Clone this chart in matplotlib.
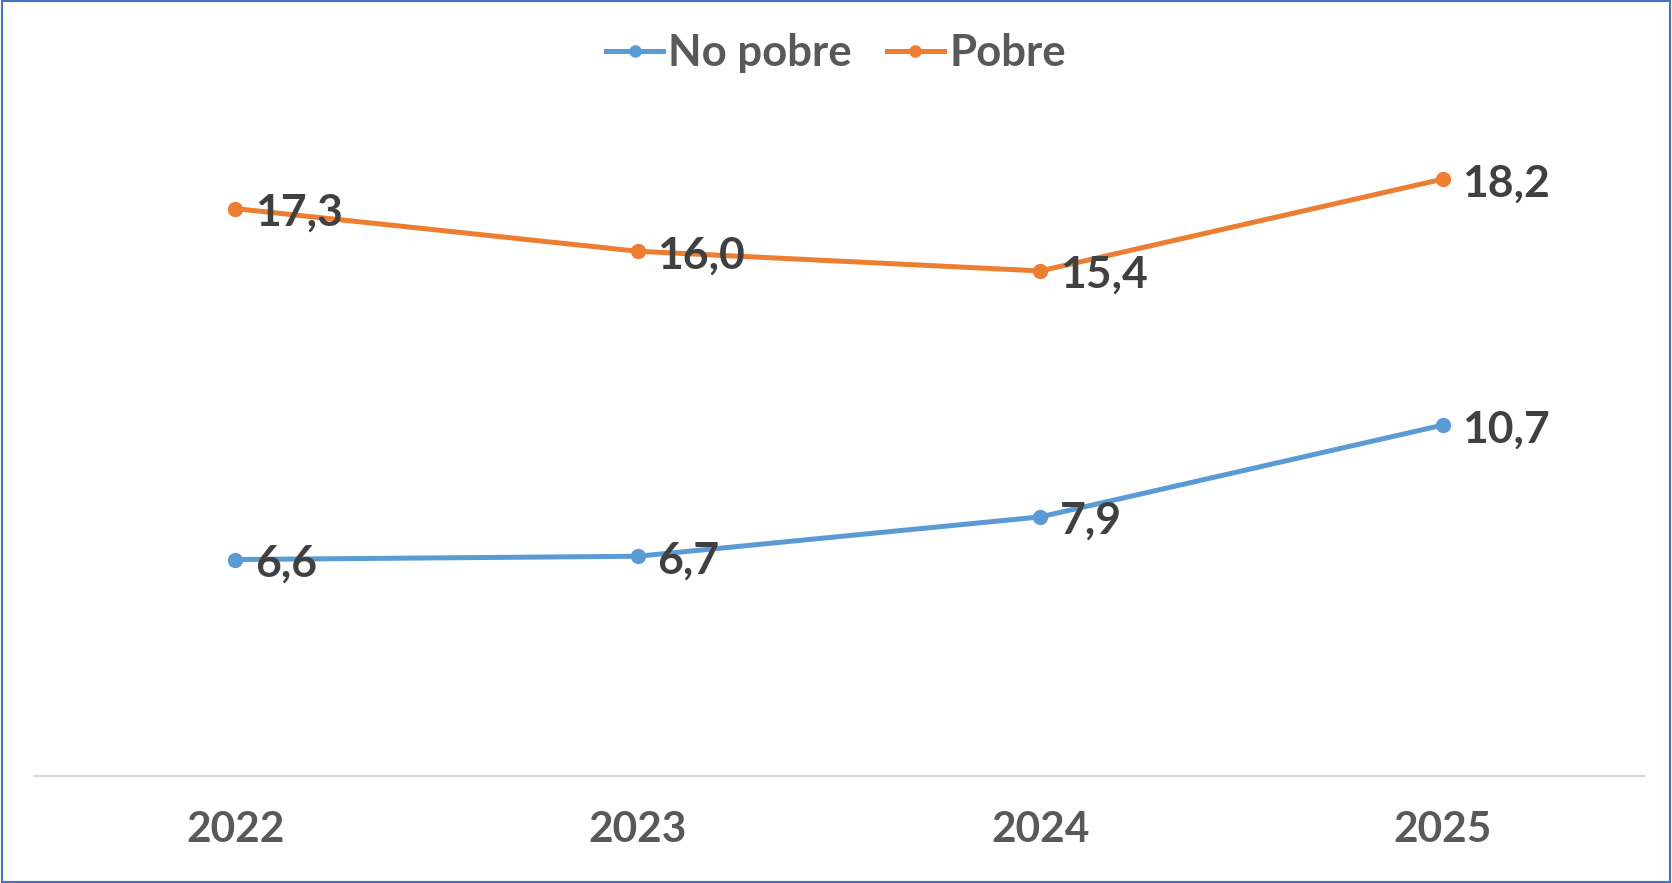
import matplotlib as mpl
mpl.use('Agg')
import matplotlib.pyplot as plt
from matplotlib.patches import Rectangle

plt.rcParams['font.family'] = ['Lato', 'DejaVu Sans']

years = ['2022', '2023', '2024', '2025']
no_pobre = [6.6, 6.7, 7.9, 10.7]
pobre = [17.3, 16.0, 15.4, 18.2]
series_names = ['No pobre', 'Pobre']

blue = '#5B9BD5'
orange = '#ED7D31'

fig = plt.figure(figsize=(16.72, 8.83), dpi=100)
ax = fig.add_axes([0.0203, 0.1212, 0.963, 0.7428])

x = list(range(len(years)))
ax.plot(x, no_pobre, '-o', color=blue, lw=3.6, ms=10, label=series_names[0])
ax.plot(x, pobre, '-o', color=orange, lw=3.6, ms=10, label=series_names[1])

# data labels to the right of each point
for vals in (no_pobre, pobre):
    for i, v in enumerate(vals):
        ax.annotate(f'{v:.1f}'.replace('.', ','), (i, v), xytext=(14, -3),
                    textcoords='offset points', ha='left', va='center',
                    fontsize=32, fontweight='bold', color='#404040')

ax.set_xlim(-0.5, 3.5)
ax.set_ylim(0, 20)
ax.set_xticks(x)
ax.set_xticklabels(years, fontsize=30.5, fontweight='bold', color='#595959')
ax.tick_params(axis='x', length=0, pad=25)
ax.set_yticks([])
for s in ['top', 'right', 'left']:
    ax.spines[s].set_visible(False)
ax.spines['bottom'].set_color('#D9D9D9')
ax.spines['bottom'].set_linewidth(1.5)

leg = fig.legend(loc='center', bbox_to_anchor=(0.5, 0.94), ncol=2, frameon=False,
                 prop={'size': 31.5, 'weight': 'bold'}, handlelength=1.3,
                 handletextpad=0.12, columnspacing=0.8, markerscale=0.8)
for t in leg.get_texts():
    t.set_color('#595959')

# outer chart border
fig.patches.append(Rectangle((0.001, 0.001), 0.998, 0.998, transform=fig.transFigure,
                             fill=False, edgecolor='#4472C4', lw=1.5))

fig.savefig('out.png', dpi=100)
